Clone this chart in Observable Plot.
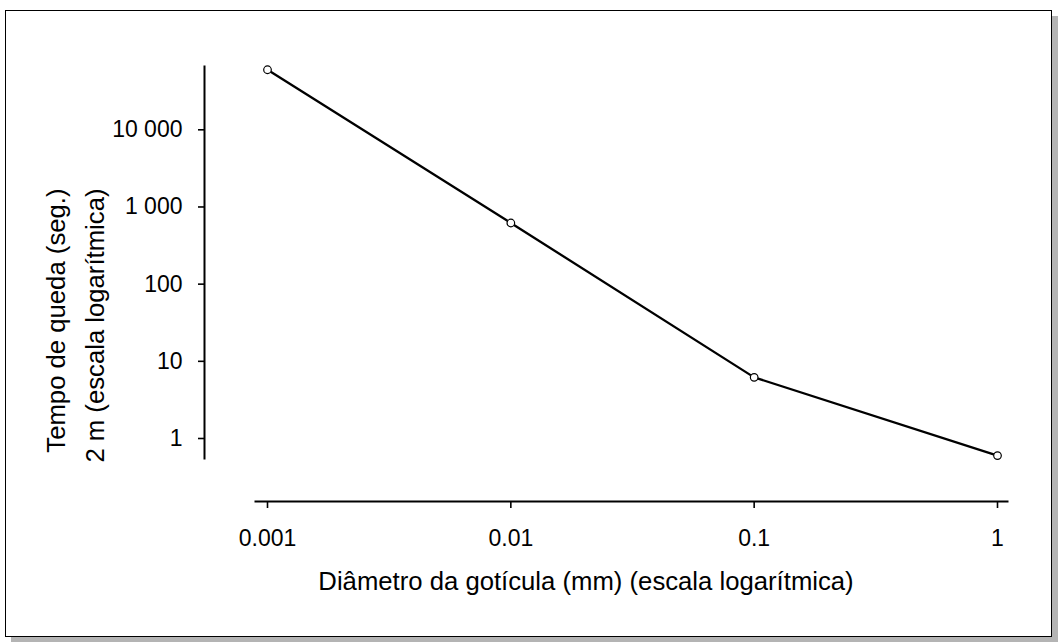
<!DOCTYPE html>
<html>
<head>
<meta charset="utf-8">
<script src="https://cdn.jsdelivr.net/npm/d3@7"></script>
<script src="https://cdn.jsdelivr.net/npm/@observablehq/plot@0.6"></script>
<style>
  html, body { margin: 0; padding: 0; background: #ffffff; }
  #wrap { position: relative; width: 1060px; height: 642px; overflow: hidden; }
  #box {
    position: absolute; left: 5px; top: 10px; width: 1045px; height: 625px;
    border: 1.6px solid #000; background: #fff;
    box-shadow: 6px 6px 0 #b4b4b4;
  }
  #chart { position: absolute; left: 0; top: 0; }
</style>
</head>
<body>
<div id="wrap"><div id="box"></div><div id="chart"></div></div>
<script>
// Data
const diameters = [0.001, 0.01, 0.1, 1];          // mm
const fallTimes = [60000, 620, 6.2, 0.6];         // seconds
const xTickValues = [0.001, 0.01, 0.1, 1];
const xTickLabels = ["0.001", "0.01", "0.1", "1"];
const yTickValues = [1, 10, 100, 1000, 10000];
const yTickLabels = ["1", "10", "100", "1 000", "10 000"];
const xTitle = "Diâmetro da gotícula (mm) (escala logarítmica)";
const yTitle = "Tempo de queda (seg.)\n2 m (escala logarítmica)";

const points = diameters.map((d, i) => ({d, t: fallTimes[i]}));

const plot = Plot.plot({
  width: 1060,
  height: 642,
  marginTop: 66,
  marginBottom: 141,
  marginLeft: 204,
  marginRight: 53,
  style: {
    background: "none",
    fontFamily: "'Liberation Sans', Arial, Helvetica, sans-serif",
    fontSize: "23px",
    color: "#000"
  },
  x: {type: "log", domain: [0.001, 1], range: [267, 997]},
  y: {type: "log", domain: [1, 10000], range: [438, 129.3]},
  marks: [
    Plot.frame({anchor: "left", insetBottom: 43, strokeWidth: 2, stroke: "#000"}),
    Plot.frame({anchor: "bottom", insetLeft: 51, strokeWidth: 2, stroke: "#000"}),
    Plot.axisY({
      ticks: yTickValues,
      tickFormat: (d) => yTickLabels[yTickValues.indexOf(d)],
      tickSize: 6, tickPadding: 16, strokeWidth: 1.6, label: null,
      fontSize: 23
    }),
    Plot.axisX({
      ticks: xTickValues,
      tickFormat: (d) => xTickLabels[xTickValues.indexOf(d)],
      tickSize: 7, tickPadding: 21, strokeWidth: 1.6, label: null,
      fontSize: 23
    }),
    Plot.line(points, {x: "d", y: "t", stroke: "#000", strokeWidth: 2.3}),
    Plot.dot(points, {x: "d", y: "t", r: 3.8, fill: "#fff", stroke: "#000", strokeWidth: 1.2}),
    Plot.text([xTitle], {text: (d) => d, frameAnchor: "bottom", dx: -20, dy: 88, fontSize: 25.7}),
    Plot.text([yTitle], {text: (d) => d, frameAnchor: "left", rotate: -90, textAnchor: "end",
      lineHeight: 1.52, dx: -132.5, dy: -95.5, fontSize: 25.7})
  ]
});
document.getElementById("chart").appendChild(plot);
</script>
</body>
</html>
